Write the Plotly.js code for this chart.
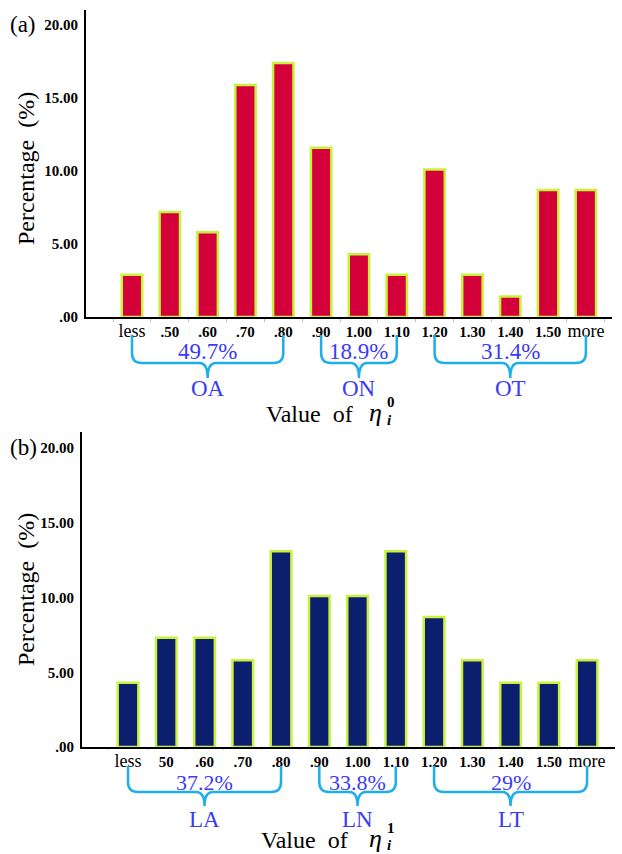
<!DOCTYPE html>
<html><head><meta charset="utf-8">
<script src="https://cdn.plot.ly/plotly-3.0.1.min.js"></script>
<style>html,body{margin:0;padding:0;background:#fff}</style>
</head><body><div id="chart" style="width:622px;height:854px"></div>
<script>
// ---- data ----
const categoriesA = ['less', '.50', '.60', '.70', '.80', '.90', '1.00', '1.10', '1.20', '1.30', '1.40', '1.50', 'more'];
const categoriesB = ['less', '50', '.60', '.70', '.80', '.90', '1.00', '1.10', '1.20', '1.30', '1.40', '1.50', 'more'];
const valuesA = [2.9, 7.2, 5.8, 15.9, 17.4, 11.6, 4.3, 2.9, 10.1, 2.9, 1.4, 8.7, 8.7];
const valuesB = [4.3, 7.3, 7.3, 5.8, 13.1, 10.1, 10.1, 13.1, 8.7, 5.8, 4.3, 4.3, 5.8];
const yTickVals = [0, 5, 10, 15, 20];
const yTickText = ['.00', '5.00', '10.00', '15.00', '20.00'];
const groupsA = [{from: 0, to: 4, pct: '49.7%', name: 'OA'}, {from: 5, to: 7, pct: '18.9%', name: 'ON'}, {from: 8, to: 12, pct: '31.4%', name: 'OT'}];
const groupsB = [{from: 0, to: 4, pct: '37.2%', name: 'LA'}, {from: 5, to: 7, pct: '33.8%', name: 'LN'}, {from: 8, to: 12, pct: '29%', name: 'LT'}];

// ---- style ----
const W = 622, H = 854;
const SERIF = 'Liberation Serif, Times New Roman, serif';
const py = p => 1 - p / H;
const px = p => p / W;
const BRACE = '#1eaeea', TXT = '#3b3bf5', OUTLINE = '#c8f23c';

function fmtTicks(cats) {
  return cats.map(c => (c === 'less' || c === 'more')
    ? '<span style="font-size:18px">' + c + '</span>'
    : '<b>' + c + '</b>');
}

function bracePath(x0, x1, yTop, yMid, yTip, rx, rxc) {
  const xc = (x0 + x1) / 2, r = 10;
  return 'M' + x0 + ',' + py(yTop) +
    ' L' + x0 + ',' + py(yMid - r) +
    ' Q' + x0 + ',' + py(yMid) + ' ' + (x0 + rx) + ',' + py(yMid) +
    ' L' + (xc - rxc) + ',' + py(yMid) +
    ' Q' + xc + ',' + py(yMid) + ' ' + xc + ',' + py(yTip) +
    ' Q' + xc + ',' + py(yMid) + ' ' + (xc + rxc) + ',' + py(yMid) +
    ' L' + (x1 - rx) + ',' + py(yMid) +
    ' Q' + x1 + ',' + py(yMid) + ' ' + x1 + ',' + py(yMid - r) +
    ' L' + x1 + ',' + py(yTop);
}

const traces = [
  {type: 'bar', x: categoriesA, y: valuesA, xaxis: 'x', yaxis: 'y', width: 0.54,
   marker: {color: '#d3003a', line: {color: OUTLINE, width: 2.5}}, hoverinfo: 'x+y'},
  {type: 'bar', x: categoriesB, y: valuesB, xaxis: 'x2', yaxis: 'y2', width: 0.54,
   marker: {color: '#0c1f6e', line: {color: OUTLINE, width: 2.5}}, hoverinfo: 'x+y'}
];

function xAxis(cats, domain, range, anchor, tlen) {
  return {domain: domain, range: range, anchor: anchor, type: 'category', showline: true, linecolor: '#000', linewidth: 2,
    tickmode: 'array', tickvals: cats, ticktext: fmtTicks(cats), tickangle: 0, ticks: 'outside', ticklen: tlen,
    tickcolor: '#bbbbbb', tickson: 'boundaries', showgrid: false, zeroline: false,
    tickfont: {family: SERIF, size: 15, color: '#000'}, ticklabelstandoff: 0, fixedrange: true};
}
function yAxis(domain, range, anchor) {
  return {domain: domain, range: range, anchor: anchor, showline: true, linecolor: '#000', linewidth: 2,
    tickmode: 'array', tickvals: yTickVals, ticktext: yTickText.map(t => '<b>' + t + '</b>'),
    ticks: '', showgrid: false, zeroline: false, ticklabelstandoff: 3,
    tickfont: {family: SERIF, size: 15, color: '#000'}, fixedrange: true};
}

const shapes = [], annotations = [];
function addGroups(groups, xref, yTop, yMid, yTip, yPct, yName, rx, rxc, fs) {
  groups.forEach(g => {
    shapes.push({type: 'path', xref: xref, yref: 'paper', path: bracePath(g.from, g.to, yTop, yMid, yTip, rx, rxc),
      line: {color: BRACE, width: 2.5}});
    const xc = (g.from + g.to) / 2;
    annotations.push({xref: xref, yref: 'paper', x: xc, y: py(yPct), text: g.pct, showarrow: false,
      font: {family: SERIF, size: fs, color: TXT}, xanchor: 'center', yanchor: 'middle', borderpad: 0});
    annotations.push({xref: xref, yref: 'paper', x: xc, y: py(yName), text: g.name, showarrow: false,
      font: {family: SERIF, size: 23, color: TXT}, xanchor: 'center', yanchor: 'middle', borderpad: 0});
  });
}
addGroups(groupsA, 'x', 335, 363, 378, 351, 388, 0.26, 0.22, 23);
addGroups(groupsB, 'x2', 766, 792, 806, 782, 819, 0.26, 0.22, 22);

function addTitles(label, yLabelCenter, xTitleLeft, yBase, xEta, ySup, ySub, sup, yPanel) {
  annotations.push({xref: 'paper', yref: 'paper', x: px(8), y: py(yPanel), text: label, showarrow: false,
    xanchor: 'left', yanchor: 'middle', font: {family: SERIF, size: 23, color: '#000'}});
  annotations.push({xref: 'paper', yref: 'paper', x: px(26), y: py(yLabelCenter), text: 'Percentage\u00A0\u00A0(%)', textangle: -90,
    showarrow: false, xanchor: 'center', yanchor: 'middle', font: {family: SERIF, size: 24, color: '#000'}});
  annotations.push({xref: 'paper', yref: 'paper', x: px(xTitleLeft), y: py(yBase), text: 'Value\u00A0\u00A0of',
    showarrow: false, xanchor: 'left', yanchor: 'bottom', font: {family: SERIF, size: 24, color: '#000'}});
  annotations.push({xref: 'paper', yref: 'paper', x: px(xEta), y: py(yBase), text: '<i>η</i>',
    showarrow: false, xanchor: 'left', yanchor: 'bottom', font: {family: SERIF, size: 26, color: '#000'}});
  annotations.push({xref: 'paper', yref: 'paper', x: px(xEta + 18), y: py(ySup), text: '<b>' + sup + '</b>',
    showarrow: false, xanchor: 'left', yanchor: 'middle', font: {family: SERIF, size: 15, color: '#000'}});
  annotations.push({xref: 'paper', yref: 'paper', x: px(xEta + 18), y: py(ySub), text: '<b><i>i</i></b>',
    showarrow: false, xanchor: 'left', yanchor: 'middle', font: {family: SERIF, size: 15, color: '#000'}});
}
addTitles('(a)', 169, 264, 429, 367, 402, 420, '0', 24);
addTitles('(b)', 590, 259, 855, 367, 828, 845, '1', 447);

const layout = {
  width: W, height: H, margin: {l: 0, r: 0, t: 0, b: 0}, paper_bgcolor: '#fff', plot_bgcolor: '#fff',
  showlegend: false,
  xaxis: xAxis(categoriesA, [px(86), px(612)], [-1.216, 12.69], 'y', 3),
  yaxis: yAxis([py(317), py(10)], [0, 21.03], 'x'),
  xaxis2: xAxis(categoriesB, [px(82), px(615)], [-1.203, 12.73], 'y2', 1),
  yaxis2: yAxis([py(747), py(432)], [0, 21.07], 'x2'),
  shapes: shapes, annotations: annotations
};

Plotly.newPlot('chart', traces, layout, {displayModeBar: false, staticPlot: true});
</script></body></html>
